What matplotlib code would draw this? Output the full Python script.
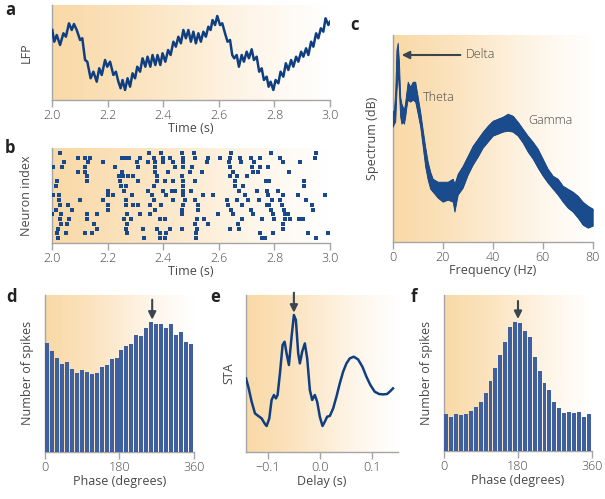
import matplotlib
matplotlib.use('Agg')
import matplotlib.pyplot as plt
import numpy as np
from matplotlib.colors import LinearSegmentedColormap

plt.rcParams['font.family'] = ['Open Sans', 'DejaVu Sans']
plt.rcParams['font.size'] = 9
plt.rcParams['font.weight'] = 'light'

# ---------------- data ----------------
# a: LFP trace (time s, amplitude a.u.)
lfp_t = [2.000, 2.007, 2.016, 2.028, 2.040, 2.049, 2.060, 2.070, 2.078, 2.088,
         2.100, 2.108, 2.118, 2.126, 2.138, 2.148, 2.160, 2.169, 2.178, 2.190,
         2.198, 2.208, 2.220, 2.229, 2.238, 2.246, 2.253, 2.262, 2.271, 2.280,
         2.289, 2.298, 2.306, 2.316, 2.325, 2.335, 2.343, 2.353, 2.361, 2.371,
         2.379, 2.389, 2.397, 2.407, 2.417, 2.426, 2.436, 2.445, 2.454, 2.463,
         2.472, 2.481, 2.490, 2.499, 2.508, 2.517, 2.526, 2.535, 2.544, 2.553,
         2.562, 2.570, 2.577, 2.586, 2.594, 2.604, 2.612, 2.622, 2.631, 2.640,
         2.648, 2.655, 2.664, 2.672, 2.682, 2.690, 2.700, 2.708, 2.718, 2.726,
         2.736, 2.745, 2.754, 2.762, 2.772, 2.779, 2.786, 2.796, 2.804, 2.814,
         2.822, 2.832, 2.841, 2.850, 2.860, 2.868, 2.878, 2.886, 2.896, 2.904,
         2.914, 2.922, 2.932, 2.940, 2.950, 2.958, 2.967, 2.976, 2.984, 2.994, 3.000]
lfp_v = [70, 58.3, 65, 55, 66.7, 63.3, 76.7, 70, 76, 70,
         60, 61.7, 40, 38.3, 21.7, 28.3, 18.3, 31.7, 25, 40,
         33.3, 38.3, 25, 28.3, 18.3, 11.7, 20, 10, 21.7, 13.3,
         26.7, 21.7, 33.3, 28.3, 41.7, 33.3, 43.3, 33.3, 45, 35,
         45, 35, 46.7, 38.3, 50, 45, 58.3, 53.3, 63.3, 56.7,
         70, 61.7, 70, 58.3, 68.3, 56.7, 66.7, 58.3, 68.3, 63.3,
         73.3, 70, 80, 75, 84, 75, 76.7, 66.7, 58.3, 60,
         45, 41.7, 45, 33.3, 45, 38.3, 48.3, 41.7, 50.7, 40,
         43.3, 28.3, 31.7, 20, 23.3, 13.3, 18.3, 10, 20, 16.7,
         28.3, 23.3, 36.7, 30, 40, 33.3, 43.3, 38.3, 48.3, 43.3,
         51.7, 45, 58.3, 53.3, 66.7, 61.7, 71.7, 68.3, 81.7, 75, 78.3]

# b: spike raster, one list of spike times per neuron (bottom to top)
spike_rows = [
    [2.019, 2.331, 2.388, 2.406, 2.517, 2.754, 2.766, 2.948],
    [2.018, 2.049, 2.118, 2.142, 2.268, 2.388, 2.409, 2.517, 2.748, 2.796, 2.922, 2.994],
    [2.019, 2.160, 2.265, 2.328, 2.378, 2.424, 2.466, 2.520, 2.640, 2.673, 2.832],
    [2.031, 2.052, 2.151, 2.268, 2.514, 2.562, 2.670, 2.832],
    [2.028, 2.060, 2.124, 2.258, 2.282, 2.388, 2.406, 2.520, 2.546, 2.682, 2.756, 2.799, 2.838, 2.856, 2.889, 2.901],
    [2.000, 2.031, 2.126, 2.160, 2.268, 2.316, 2.352, 2.466, 2.598, 2.649, 2.724, 2.796, 2.838, 2.850],
    [2.013, 2.070, 2.202, 2.370, 2.466, 2.526, 2.642, 2.714, 2.786, 2.835, 2.937],
    [2.028, 2.058, 2.202, 2.265, 2.289, 2.310, 2.352, 2.390, 2.472, 2.526, 2.634, 2.682, 2.772, 2.781, 2.826, 2.934],
    [2.025, 2.100, 2.184, 2.265, 2.366, 2.436, 2.478, 2.514, 2.630, 2.666, 2.706, 2.745, 2.790, 2.820, 2.913],
    [2.004, 2.025, 2.202, 2.220, 2.286, 2.358, 2.409, 2.472, 2.541, 2.580, 2.694, 2.778, 2.832, 2.886, 2.982],
    [2.202, 2.258, 2.346, 2.397, 2.430, 2.442, 2.472, 2.498, 2.673, 2.736, 2.772, 2.814],
    [2.013, 2.246, 2.265, 2.366, 2.472, 2.658, 2.688, 2.906],
    [2.018, 2.124, 2.244, 2.310, 2.376, 2.406, 2.436, 2.469, 2.514, 2.658, 2.769, 2.781, 2.906],
    [2.124, 2.240, 2.256, 2.274, 2.289, 2.376, 2.466, 2.640, 2.666, 2.700],
    [2.094, 2.118, 2.250, 2.370, 2.418, 2.496, 2.538, 2.652, 2.721, 2.742, 2.853],
    [2.004, 2.034, 2.118, 2.226, 2.310, 2.370, 2.442, 2.469, 2.502, 2.640, 2.718, 2.748, 2.778],
    [2.043, 2.130, 2.184, 2.304, 2.343, 2.370, 2.400, 2.436, 2.472, 2.556, 2.637, 2.678, 2.726, 2.832, 2.892],
    [2.094, 2.118, 2.136, 2.250, 2.262, 2.277, 2.316, 2.366, 2.400, 2.424, 2.469, 2.514, 2.562, 2.604, 2.640, 2.676, 2.714, 2.748, 2.820, 2.946],
    [2.028, 2.348, 2.391, 2.468, 2.510, 2.643, 2.786, 2.950],
]

# c: power spectrum envelope (Hz, dB a.u.)
spec_f = [0, 0.5, 1.0, 1.5, 2.0, 2.5, 3.0, 3.5, 4.0, 4.5, 5.0, 5.5, 6, 7, 8, 9, 10, 11, 12, 13,
          14, 15, 16, 18, 20, 22, 24, 24.7, 26, 28, 30, 32, 34, 36, 38, 40, 42, 44, 46, 48,
          50, 52, 54, 56, 58, 60, 62, 64, 66, 68, 70, 72, 74, 76, 78, 80]
spec_lo = [115, 118, 120, 150, 170, 150, 125, 118, 120, 118, 125, 135, 142, 140, 142, 140, 128, 115, 95, 75,
           62, 53, 50, 44, 40, 42, 40, 30, 47, 54, 67, 77, 85, 94, 100, 106, 108, 110, 111, 110,
           106, 99, 90, 83, 74, 66, 59, 53, 47, 40, 34, 30, 24, 17, 14, 16]
spec_hi = [130, 132, 150, 192, 199, 180, 145, 138, 135, 132, 140, 150, 160, 155, 160, 160, 145, 130, 112, 95,
           80, 70, 63, 60, 60, 60, 63, 58, 68, 76, 86, 96, 103, 110, 116, 121, 123, 125, 128, 126,
           120, 113, 106, 100, 93, 83, 73, 66, 63, 56, 53, 50, 46, 40, 36, 33]

# d, f: phase histograms (30 bins of 12 degrees)
phase_bins = list(range(0, 360, 12))
counts_d = [109, 101, 94, 88, 90, 83, 79, 82, 80, 78, 79, 85, 87, 93, 94, 102, 106, 108, 117, 116,
            124, 130, 128, 128, 124, 128, 117, 120, 110, 108]
counts_f = [37, 34, 37, 36, 37, 40, 44, 49, 58, 70, 83, 96, 109, 124, 129, 128, 120, 114, 94, 80,
            68, 61, 49, 43, 38, 39, 38, 39, 34, 37]

# e: spike-triggered average
sta_t = [-0.1414, -0.1370, -0.1306, -0.1242, -0.1178, -0.1115, -0.1051, -0.1019, -0.0968, -0.0924,
         -0.0879, -0.0841, -0.0809, -0.0764, -0.0713, -0.0675, -0.0637, -0.0592, -0.0541, -0.0497,
         -0.0459, -0.0414, -0.0382, -0.0338, -0.0287, -0.0242, -0.0191, -0.0146, -0.0096, -0.0051,
         0.0000, 0.0051, 0.0096, 0.0140, 0.0191, 0.0255, 0.0318, 0.0382, 0.0446, 0.0510,
         0.0573, 0.0650, 0.0732, 0.0815, 0.0892, 0.0968, 0.1051, 0.1134, 0.1210, 0.1287,
         0.1338, 0.1401]
sta_v = [73.3, 65, 50, 38.3, 35.7, 33.3, 27.7, 25.7, 33.3, 51.7,
         56.7, 53.3, 56.7, 78.3, 106.7, 110, 98.3, 86.7, 115, 136.7,
         131.7, 98.3, 88.3, 100, 108.3, 93.3, 61.7, 51.7, 56.7, 50,
         35, 25.7, 30, 35, 35.7, 43.3, 55, 68.3, 80, 88.3,
         93.3, 95, 92.3, 85, 75, 66.7, 60, 57.7, 57.3, 57.7,
         60, 63.3]

# ---------------- style ----------------
BLUE = '#0f3f80'
BAR = '#3e60a0'
ARROW = '#3b4550'
SPINE = '#a5a5a5'
TXT = '#484848'
grad = LinearSegmentedColormap.from_list(
    'g', [(0, '#f9d9a6'), (0.35, '#fce5c3'), (0.7, '#fef5e8'), (1, '#ffffff')])

W, H = 605, 499
fig = plt.figure(figsize=(6.05, 4.99), dpi=100)


def make_ax(l, t, r, b):
    ax = fig.add_axes([l / W, 1 - b / H, (r - l) / W, (b - t) / H])
    ax.imshow(np.linspace(0, 1, 256).reshape(1, -1), extent=[0, 1, 0, 1],
              transform=ax.transAxes, aspect='auto', cmap=grad, zorder=0,
              interpolation='bilinear')
    for s in ['top', 'right']:
        ax.spines[s].set_visible(False)
    for s in ['left', 'bottom']:
        ax.spines[s].set_color(SPINE)
        ax.spines[s].set_linewidth(1.0)
    ax.tick_params(axis='x', direction='out', length=5, width=1, color=SPINE,
                   labelcolor=TXT, labelsize=9, pad=1.5)
    ax.tick_params(axis='y', left=False, labelleft=False)
    return ax


def letter(x, y, s):
    fig.text(x / W, 1 - y / H, s, fontsize=12, fontweight='bold', color='#222222',
             ha='left', va='center')

# a
ax = make_ax(52.3, 5, 330, 100)
ax.plot(lfp_t, lfp_v, color=BLUE, lw=1.8, solid_joinstyle='round', zorder=3)
ax.set_xlim(2.0, 3.0)
ax.set_ylim(0, 95)
ax.set_aspect('auto')
ax.set_xticks([2.0, 2.2, 2.4, 2.6, 2.8, 3.0])
ax.set_xticklabels(['2.0', '2.2', '2.4', '2.6', '2.8', '3.0'])
ax.set_xlabel('Time (s)', color=TXT, labelpad=0)
ax.set_ylabel('LFP', color=TXT, labelpad=14)
letter(5, 10, 'a')

# b
ax = make_ax(52.3, 148, 330, 243)
for i, row in enumerate(spike_rows):
    ax.scatter(row, [i] * len(row), marker='s', s=7, color='#17498c', linewidths=0, zorder=3)
ax.set_xlim(2.0, 3.0)
ax.set_ylim(-1, len(spike_rows))
ax.set_aspect('auto')
ax.set_xticks([2.0, 2.2, 2.4, 2.6, 2.8, 3.0])
ax.set_xticklabels(['2.0', '2.2', '2.4', '2.6', '2.8', '3.0'])
ax.set_xlabel('Time (s)', color=TXT, labelpad=0)
ax.set_ylabel('Neuron index', color=TXT, labelpad=14)
letter(5, 148, 'b')

# c
ax = make_ax(392.7, 35, 592.7, 241.7)
ax.fill_between(spec_f, spec_lo, spec_hi, color='#1a4b8c', lw=0.6, edgecolor=BLUE, zorder=3)
ax.set_xlim(0, 80)
ax.set_ylim(0, 206.7)
ax.set_aspect('auto')
ax.set_xticks([0, 20, 40, 60, 80])
ax.set_xlabel('Frequency (Hz)', color=TXT, labelpad=0)
ax.set_ylabel('Spectrum (dB)', color=TXT, labelpad=10)
ax.annotate('Delta', xy=(3.6, 186.7), xytext=(29.3, 186.7), color=TXT, va='center', ha='left',
            arrowprops=dict(arrowstyle='-|>,head_width=0.25,head_length=0.5', color=ARROW, lw=1.5,
                            shrinkA=2, shrinkB=0), zorder=5)
ax.text(12, 144, 'Theta', color=TXT, va='center', ha='left', zorder=5)
ax.text(54.3, 121.7, 'Gamma', color=TXT, va='center', ha='left', zorder=5)
letter(350, 25, 'c')

# d
ax = make_ax(45, 295, 194, 451.7)
ax.bar(phase_bins, counts_d, width=9.6, align='edge', color=BAR, lw=0, zorder=3)
ax.set_xlim(0, 360)
ax.set_ylim(0, 156.7)
ax.set_aspect('auto')
ax.set_xticks([0, 180, 360])
ax.set_xlabel('Phase (degrees)', color=TXT, labelpad=1)
ax.set_ylabel('Number of spikes', color=TXT, labelpad=8)
ax.annotate('', xy=(259, 132), xytext=(259, 152),
            arrowprops=dict(arrowstyle='-|>,head_width=0.25,head_length=0.5', color=ARROW, lw=1.5,
                            shrinkA=0, shrinkB=0), annotation_clip=False)
letter(6, 297, 'd')

# e
ax = make_ax(246, 295, 398, 451.7)
ax.plot(sta_t, sta_v, color=BLUE, lw=1.8, solid_joinstyle='round', zorder=3)
ax.set_xlim(-0.1414, 0.1497)
ax.set_ylim(0, 156.7)
ax.set_aspect('auto')
ax.set_xticks([-0.1, 0.0, 0.1])
ax.set_xticklabels(['\u22120.1', '0.0', '0.1'])
ax.set_xlabel('Delay (s)', color=TXT, labelpad=1)
ax.set_ylabel('STA', color=TXT, labelpad=8)
ax.annotate('', xy=(-0.0497, 139), xytext=(-0.0497, 159),
            arrowprops=dict(arrowstyle='-|>,head_width=0.25,head_length=0.5', color=ARROW, lw=1.5,
                            shrinkA=0, shrinkB=0), annotation_clip=False)
letter(210, 297, 'e')

# f
ax = make_ax(444.3, 295, 591.7, 451)
ax.bar(phase_bins, counts_f, width=9.6, align='edge', color=BAR, lw=0, zorder=3)
ax.set_xlim(0, 360)
ax.set_ylim(0, 156)
ax.set_aspect('auto')
ax.set_xticks([0, 180, 360])
ax.set_xlabel('Phase (degrees)', color=TXT, labelpad=1)
ax.set_ylabel('Number of spikes', color=TXT, labelpad=8)
ax.annotate('', xy=(180, 132), xytext=(180, 150),
            arrowprops=dict(arrowstyle='-|>,head_width=0.25,head_length=0.5', color=ARROW, lw=1.5,
                            shrinkA=0, shrinkB=0), annotation_clip=False)
letter(411, 297, 'f')

fig.savefig('out.png', dpi=100)
